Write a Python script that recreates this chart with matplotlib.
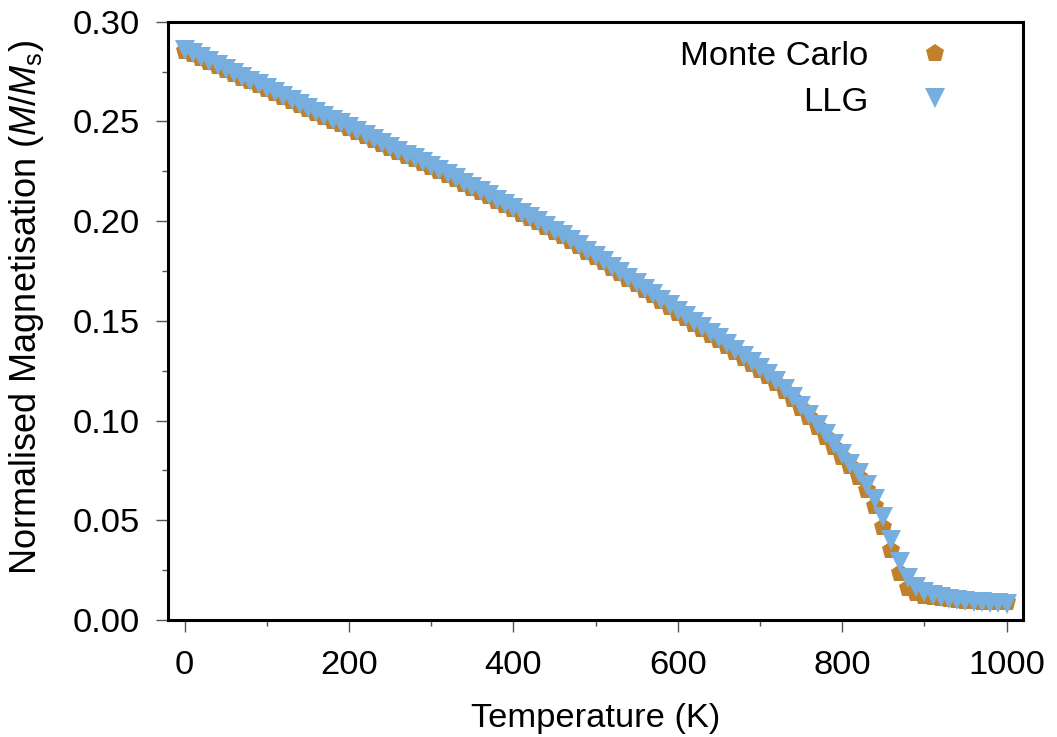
import numpy as np
import matplotlib
matplotlib.use("Agg")
import matplotlib.pyplot as plt
from matplotlib.ticker import MultipleLocator, FormatStrFormatter

plt.rcParams['font.family'] = ['Liberation Sans', 'DejaVu Sans']
plt.rcParams['mathtext.fontset'] = 'custom'
plt.rcParams['mathtext.rm'] = 'Liberation Sans'
plt.rcParams['mathtext.it'] = 'Liberation Sans:italic'

temperature = list(range(0, 1001, 10))

monte_carlo = [
    0.2855, 0.2836, 0.2817, 0.2797, 0.2778, 0.2758, 0.2739, 0.2719, 0.2700, 0.2680,
    0.2660, 0.2641, 0.2621, 0.2602, 0.2582, 0.2563, 0.2543, 0.2524, 0.2504, 0.2485,
    0.2465, 0.2445, 0.2426, 0.2406, 0.2387, 0.2367, 0.2348, 0.2328, 0.2309, 0.2289,
    0.2270, 0.2250, 0.2229, 0.2209, 0.2188, 0.2167, 0.2145, 0.2124, 0.2103, 0.2082,
    0.2060, 0.2038, 0.2016, 0.1993, 0.1970, 0.1947, 0.1923, 0.1898, 0.1873, 0.1847,
    0.1820, 0.1793, 0.1766, 0.1738, 0.1710, 0.1683, 0.1655, 0.1627, 0.1599, 0.1570,
    0.1541, 0.1513, 0.1486, 0.1458, 0.1430, 0.1402, 0.1373, 0.1345, 0.1315, 0.1285,
    0.1254, 0.1221, 0.1186, 0.1149, 0.1108, 0.1064, 0.1017, 0.0968, 0.0918, 0.0868,
    0.0818, 0.0770, 0.0718, 0.0650, 0.0570, 0.0468, 0.0351, 0.0234, 0.0159, 0.0134,
    0.0122, 0.0115, 0.0109, 0.0104, 0.0100, 0.0097, 0.0094, 0.0092, 0.0090, 0.0089,
    0.0088,
]

llg = [
    0.2860, 0.2841, 0.2822, 0.2802, 0.2783, 0.2763, 0.2744, 0.2724, 0.2705, 0.2685,
    0.2665, 0.2646, 0.2626, 0.2607, 0.2587, 0.2568, 0.2548, 0.2529, 0.2509, 0.2490,
    0.2470, 0.2450, 0.2431, 0.2411, 0.2392, 0.2372, 0.2353, 0.2333, 0.2314, 0.2294,
    0.2275, 0.2255, 0.2234, 0.2214, 0.2193, 0.2172, 0.2150, 0.2129, 0.2108, 0.2087,
    0.2065, 0.2043, 0.2021, 0.1998, 0.1975, 0.1952, 0.1928, 0.1903, 0.1878, 0.1852,
    0.1825, 0.1798, 0.1771, 0.1744, 0.1716, 0.1689, 0.1661, 0.1634, 0.1606, 0.1578,
    0.1550, 0.1523, 0.1496, 0.1468, 0.1440, 0.1412, 0.1383, 0.1355, 0.1326, 0.1296,
    0.1265, 0.1232, 0.1197, 0.1160, 0.1119, 0.1075, 0.1028, 0.0980, 0.0930, 0.0880,
    0.0830, 0.0782, 0.0735, 0.0677, 0.0605, 0.0518, 0.0400, 0.0292, 0.0209, 0.0167,
    0.0142, 0.0125, 0.0115, 0.0107, 0.0101, 0.0096, 0.0092, 0.0089, 0.0086, 0.0084,
    0.0082,
]

x_ticks = [0, 200, 400, 600, 800, 1000]
y_ticks = [0.00, 0.05, 0.10, 0.15, 0.20, 0.25, 0.30]

mc_color = '#C1802A'
llg_color = '#76AFDF'

fig = plt.figure(figsize=(10.57, 7.37), dpi=100)
ax = fig.add_axes([0.1592, 0.1588, 0.8086, 0.8118])

ax.plot(temperature, monte_carlo, linestyle='none', marker='p', markersize=13.5,
        color=mc_color, markeredgewidth=0, label='Monte Carlo')
ax.plot(temperature, llg, linestyle='none', marker='v', markersize=14,
        color=llg_color, markeredgewidth=0, label='LLG')

ax.set_xlim(-20, 1020)
ax.set_ylim(0, 0.30)
ax.set_xticks(x_ticks)
ax.set_yticks(y_ticks)
ax.yaxis.set_major_formatter(FormatStrFormatter('%.2f'))
ax.xaxis.set_minor_locator(MultipleLocator(100))
ax.yaxis.set_minor_locator(MultipleLocator(0.025))

ax.tick_params(which='both', direction='out', top=False, right=False,
               labelsize=24.8, color='#555555', width=1.0)
ax.tick_params(which='major', length=8.6)
ax.tick_params(which='minor', length=4.3)
ax.tick_params(axis='x', which='major', pad=13)
ax.tick_params(axis='y', which='major', pad=12)

for sp in ax.spines.values():
    sp.set_linewidth(2.2)
    sp.set_color('black')

ax.set_xlabel('Temperature (K)', fontsize=24.8, labelpad=16)
ax.set_ylabel(r'Normalised Magnetisation ($M$/$M_\mathrm{s}$)', fontsize=26,
              labelpad=19)
ax.yaxis.label.set_y(0.523)

leg = ax.legend(loc='upper right', bbox_to_anchor=(0.947, 0.968), frameon=False,
                fontsize=24.8, markerfirst=False, handlelength=2.5, handletextpad=0.68,
                labelspacing=0.42, borderpad=0.0, borderaxespad=0.0)
vp = leg._legend_box._children[-1]._children[0]
vp.align = 'right'

fig.savefig('out.png', dpi=100)
